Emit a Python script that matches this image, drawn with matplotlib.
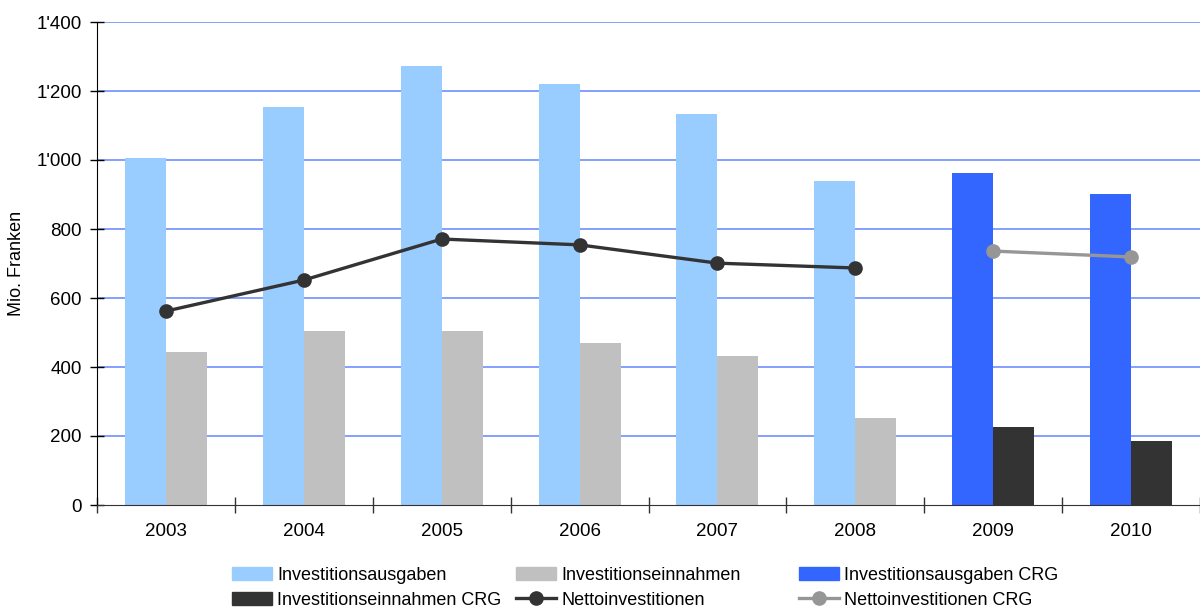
import matplotlib
matplotlib.use("Agg")
import matplotlib.pyplot as plt
import numpy as np
from matplotlib.ticker import FuncFormatter, MultipleLocator, FixedLocator
from matplotlib.patches import Patch
from matplotlib.lines import Line2D

plt.rcParams['font.family'] = ['Liberation Sans', 'DejaVu Sans']

years = ["2003", "2004", "2005", "2006", "2007", "2008", "2009", "2010"]
ausgaben = [1006, 1154, 1272, 1220, 1133, 939, None, None]
einnahmen = [443, 504, 504, 470, 432, 252, None, None]
ausgaben_crg = [None, None, None, None, None, None, 962, 901]
einnahmen_crg = [None, None, None, None, None, None, 226, 185]
netto = [562, 652, 771, 754, 701, 687, None, None]
netto_crg = [None, None, None, None, None, None, 736, 719]

c_light = "#99ccff"
c_gray = "#c0c0c0"
c_blue = "#3366ff"
c_dark = "#333333"
c_line = "#333333"
c_line_crg = "#969696"
c_grid = "#6f8fff"

fig = plt.figure(figsize=(12, 6.1), dpi=100)
ax = fig.add_axes([97/1200, 1 - 505/610, 1 - 97/1200, 483/610])

x = np.arange(len(years))
w = 0.297


def arr(v):
    return np.array([np.nan if e is None else e for e in v], dtype=float)


ax.bar(x - w/2, arr(ausgaben), w, color=c_light, zorder=2)
ax.bar(x + w/2, arr(einnahmen), w, color=c_gray, zorder=2)
ax.bar(x - w/2, arr(ausgaben_crg), w, color=c_blue, zorder=2)
ax.bar(x + w/2, arr(einnahmen_crg), w, color=c_dark, zorder=2)
ax.plot(x, arr(netto), color=c_line, lw=2.4, marker='o', ms=9.5, zorder=3)
ax.plot(x, arr(netto_crg), color=c_line_crg, lw=2.4, marker='o', ms=9.5, zorder=3)

ax.set_xlim(-0.5, len(years) - 0.5)
ax.set_ylim(0, 1400)
ax.yaxis.set_major_locator(MultipleLocator(200))
ax.yaxis.set_major_formatter(FuncFormatter(lambda v, p: f"{int(v):,}".replace(",", "'")))
for yv in np.arange(200, 1401, 200):
    ax.axhline(yv, color=c_grid, lw=1.2, zorder=0)

ax.xaxis.set_major_locator(FixedLocator(np.arange(-0.5, len(years), 1.0)))
ax.xaxis.set_major_formatter(FuncFormatter(lambda v, p: ""))
ax.set_xticks(x, minor=True)
ax.set_xticklabels(years, minor=True)
ax.tick_params(axis='x', which='minor', length=0, pad=13, labelsize=13.5)
ax.tick_params(axis='x', which='major', direction='inout', length=12, width=1, color='#333333')
ax.tick_params(axis='y', direction='inout', length=10, width=1, labelsize=13.5, pad=6)

for s in ('top', 'right'):
    ax.spines[s].set_visible(False)
ax.spines['left'].set_color('black')
ax.spines['bottom'].set_color('#333333')
for s in ('left', 'bottom'):
    ax.spines[s].set_zorder(5)

ax.set_ylabel("Mio. Franken", fontsize=13, labelpad=8)

handles = [
    [Patch(color=c_light, label="Investitionsausgaben"),
     Patch(color=c_dark, label="Investitionseinnahmen CRG")],
    [Patch(color=c_gray, label="Investitionseinnahmen"),
     Line2D([], [], color=c_line, lw=2.4, marker='o', ms=9.5, label="Nettoinvestitionen")],
    [Patch(color=c_blue, label="Investitionsausgaben CRG"),
     Line2D([], [], color=c_line_crg, lw=2.4, marker='o', ms=9.5, label="Nettoinvestitionen CRG")],
]
for hs, xpos in zip(handles, [232, 516, 799]):
    fig.legend(handles=hs, loc='upper left', bbox_to_anchor=(xpos/1200, 1 - 567/610),
               frameon=False, fontsize=13, handlelength=2.2, handleheight=0.7,
               handletextpad=0.3, labelspacing=0.42, borderpad=0, borderaxespad=0)

fig.savefig("out.png", dpi=100)
